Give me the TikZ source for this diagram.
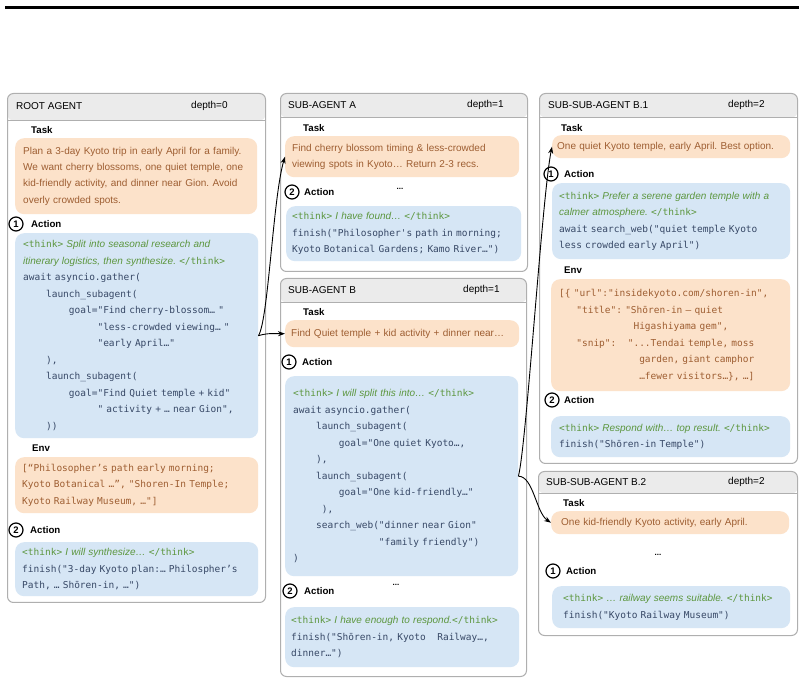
\documentclass[tikz,border=0pt]{standalone}
\usepackage{fontspec}
\setmainfont{Liberation Sans}
\setmonofont{DejaVu Sans Mono}
\usetikzlibrary{arrows.meta}
\frenchspacing

\definecolor{taskfill}{RGB}{252,226,202}
\definecolor{tasktext}{RGB}{158,94,50}
\definecolor{actfill}{RGB}{214,230,245}
\definecolor{codetext}{RGB}{55,72,102}
\definecolor{thinkgreen}{RGB}{92,150,62}
\definecolor{headfill}{RGB}{235,235,235}
\definecolor{panelgray}{RGB}{175,175,175}

\newcommand{\tko}{{\color{thinkgreen}<think>}}
\newcommand{\tkc}{{\color{thinkgreen}</think>}}
\newcommand{\thk}[1]{{\color{thinkgreen}\rmfamily\itshape\fontsize{10}{16.5}\selectfont #1}}
\newcommand{\cind}[1]{\hspace*{#1\fontcharwd\font`\0}}

\tikzset{panel/.style={rectangle, rounded corners=6pt, draw=panelgray, line width=1pt, fill=white, anchor=north west, inner sep=0pt,
    path picture={\fill[headfill] (path picture bounding box.north west) rectangle ([yshift=-#1]path picture bounding box.north east);
      \draw[panelgray, line width=0.8pt] ([yshift=-#1]path picture bounding box.north west) -- ([yshift=-#1]path picture bounding box.north east);}}}
\tikzstyle{headtext} = [anchor=west, inner sep=0pt, font=\fontsize{10}{12}\selectfont]
\tikzstyle{secname} = [anchor=west, inner sep=0pt, font=\bfseries\fontsize{9.7}{12}\selectfont]
\tikzstyle{taskbox} = [rectangle, rounded corners=9pt, fill=taskfill, anchor=north west, inner xsep=7pt, inner ysep=0pt, align=left, text=tasktext, font=\fontsize{10}{16.3}\selectfont]
\tikzstyle{actbox} = [rectangle, rounded corners=9pt, fill=actfill, anchor=north west, inner xsep=7pt, inner ysep=0pt, align=left, text=codetext, font=\ttfamily\fontsize{9.5}{16.5}\selectfont]
\tikzstyle{envbox} = [rectangle, rounded corners=9pt, fill=taskfill, anchor=north west, inner xsep=7pt, inner ysep=0pt, align=left, text=tasktext, font=\ttfamily\fontsize{9.5}{16.5}\selectfont]
\tikzstyle{stepnum} = [circle, draw, line width=1.2pt, inner sep=0pt, minimum size=14pt, font=\bfseries\fontsize{9.5}{10}\selectfont]
\tikzstyle{ellip} = [inner sep=0pt, font=\bfseries\fontsize{8}{10}\selectfont]
\tikzstyle{arrow} = [-{Stealth[length=7pt, width=5pt]}, line width=0.9pt]

\begin{document}
\begin{tikzpicture}[x=1pt, y=-1pt]
  \useasboundingbox (0,0) rectangle (804,684);

  \coordinate (ruleL) at (5,7.5);
  \coordinate (ruleR) at (799,7.5);
  \draw[line width=3.5pt] (ruleL) -- (ruleR);

  % root agent
  \node (root) [panel=27pt, minimum width=258pt, minimum height=509pt] at (7,93) {};
  \node (roottitle) [headtext] at (16,106) {ROOT AGENT};
  \node (rootdepth) [headtext] at (191,106) {depth=0};
  \node (rtasklbl) [secname] at (31,130) {Task};
  \node (rtask) [taskbox, inner xsep=8pt, text width=226pt, minimum height=76pt] at (15,138) {Plan a 3-day Kyoto trip in early April for a family.\\We want cherry blossoms, one quiet temple, one\\kid-friendly activity, and dinner near Gion. Avoid\\overly crowded spots.};
  \node (r1num) [stepnum] at (16,224) {1};
  \node (r1lbl) [secname] at (31,224) {Action};
  \node (ract1) [actbox, inner xsep=8pt, text width=227pt, minimum height=205pt] at (15,233) {\tko{} \thk{Split into seasonal research and}\\
    \thk{itinerary logistics, then synthesize.} \tkc\\
    await asyncio.gather(\\
    \cind{4}launch\_subagent(\\
    \cind{8}goal="Find cherry-blossom… "\\
    \cind{13}"less-crowded viewing… "\\
    \cind{13}"early April…"\\
    \cind{4}),\\
    \cind{4}launch\_subagent(\\
    \cind{8}goal="Find Quiet temple + kid"\\
    \cind{13}" activity + … near Gion",\\
    \cind{4}))};
  \node (renvlbl) [secname] at (32,448) {Env};
  \node (renv) [envbox, text width=229pt, minimum height=56pt] at (15,457) {[“Philosopher’s path early morning;\\
    Kyoto Botanical …”, "Shoren-In Temple;\\
    Kyoto Railway Museum, …"]};
  \node (r2num) [stepnum] at (16,530) {2};
  \node (r2lbl) [secname] at (30,530) {Action};
  \node (ract2) [actbox, text width=229pt, minimum height=54pt] at (15,542) {\tko{} \thk{I will synthesize…} \tkc\\
    finish("3-day Kyoto plan:… Philospher’s\\
    Path, … Shōren-in, …")};

  % sub-agent A
  \node (pa) [panel=24pt, minimum width=247pt, minimum height=178pt] at (280,93) {};
  \node (patitle) [headtext] at (288,105) {SUB-AGENT A};
  \node (padepth) [headtext] at (467,105) {depth=1};
  \node (atasklbl) [secname] at (303,128) {Task};
  \node (atask) [taskbox, text width=220pt, minimum height=41pt] at (285,136) {Find cherry blossom timing \& less-crowded\\viewing spots in Kyoto… Return 2-3 recs.};
  \node (adots) [ellip] at (400,189) {...};
  \node (a2num) [stepnum] at (292,192) {2};
  \node (a2lbl) [secname] at (304,192) {Action};
  \node (aact) [actbox, inner xsep=6pt, text width=223pt, minimum height=55pt] at (286,206) {\tko{} \thk{I have found…} \tkc\\
    finish("Philosopher's path in morning;\\
    Kyoto Botanical Gardens; Kamo River…")};

  % sub-agent B
  \node (pb) [panel=24pt, minimum width=246pt, minimum height=398pt] at (280,278) {};
  \node (pbtitle) [headtext] at (288,290) {SUB-AGENT B};
  \node (pbdepth) [headtext] at (463,290) {depth=1};
  \node (btasklbl) [secname] at (303,312) {Task};
  \node (btask) [taskbox, inner xsep=6pt, text width=222pt, minimum height=27pt] at (285,320) {Find Quiet temple + kid activity + dinner near…};
  \node (b1num) [stepnum] at (289,362) {1};
  \node (b1lbl) [secname] at (302,362) {Action};
  \node (bact1) [actbox, inner xsep=8pt, text width=217pt, minimum height=200pt] at (285,376) {\tko{} \thk{I will split this into…} \tkc\\
    await asyncio.gather(\\
    \cind{4}launch\_subagent(\\
    \cind{8}goal="One quiet Kyoto…,\\
    \cind{4}),\\
    \cind{4}launch\_subagent(\\
    \cind{8}goal="One kid-friendly…"\\
    \cind{5}),\\
    \cind{4}search\_web("dinner near Gion"\\
    \cind{15}"family friendly")\\
    )};
  \node (bdots) [ellip] at (396,585) {...};
  \node (b2num) [stepnum] at (290,591) {2};
  \node (b2lbl) [secname] at (304,591) {Action};
  \node (bact2) [actbox, inner xsep=6pt, text width=222pt, minimum height=60pt] at (285,607) {\tko{} \thk{I have enough to respond.}\tkc\\
    finish("Shōren-in, Kyoto\cind{2}Railway…,\\
    dinner…")};

  % sub-sub-agent B.1
  \node (pb1) [panel=24pt, minimum width=258pt, minimum height=370pt] at (539,93) {};
  \node (pb1title) [headtext] at (548,105) {SUB-SUB-AGENT B.1};
  \node (pb1depth) [headtext] at (728,105) {depth=2};
  \node (b1tasklbl) [secname] at (561,128) {Task};
  \node (b1task) [taskbox, inner xsep=5pt, text width=228pt, minimum height=23pt] at (552,135) {One quiet Kyoto temple, early April. Best option.};
  \node (b11num) [stepnum] at (551,174) {1};
  \node (b11lbl) [secname] at (564,174) {Action};
  \node (b1act1) [actbox, text width=224pt, minimum height=76pt] at (552,183) {\tko{} \thk{Prefer a serene garden temple with a}\\
    \thk{calmer atmosphere.} \tkc\\
    await search\_web("quiet temple Kyoto\\
    less crowded early April")};
  \node (b1envlbl) [secname] at (564,270) {Env};
  \node (b1env) [envbox, inner xsep=8pt, text width=223pt, minimum height=112pt] at (551,279) {[\{ "url":"insidekyoto.com/shoren-in",\\
    \cind{3}"title": "Shōren-in — quiet\\
    \cind{13}Higashiyama gem",\\
    \cind{3}"snip":\cind{2}"...Tendai temple, moss\\
    \cind{14}garden, giant camphor\\
    \cind{14}…fewer visitors…\}, …]};
  \node (b12num) [stepnum] at (552,400) {2};
  \node (b12lbl) [secname] at (564,400) {Action};
  \node (b1act2) [actbox, inner xsep=8pt, text width=223pt, minimum height=41pt] at (551,416) {\tko{} \thk{Respond with… top result.} \tkc\\
    finish("Shōren-in Temple")};

  % sub-sub-agent B.2
  \node (pb2) [panel=22pt, minimum width=259pt, minimum height=164pt] at (538,471) {};
  \node (pb2title) [headtext] at (546,482) {SUB-SUB-AGENT B.2};
  \node (pb2depth) [headtext] at (728,482) {depth=2};
  \node (b2tasklbl) [secname] at (563,503) {Task};
  \node (b2task) [taskbox, inner xsep=10pt, text width=218pt, minimum height=23pt] at (551,511) {One kid-friendly Kyoto activity, early April.};
  \node (b2dots) [ellip] at (658,555) {...};
  \node (b21num) [stepnum] at (553,571) {1};
  \node (b21lbl) [secname] at (566,571) {Action};
  \node (b2act) [actbox, inner xsep=11pt, text width=216pt, minimum height=42pt] at (552,586) {\tko{} \thk{… railway seems suitable.} \tkc\\
    finish("Kyoto Railway Museum")};

  % spawn arrows
  \draw [arrow] (ract1.east) .. controls +(10,-15) and +(-12,40) .. (atask.west);
  \draw [arrow] (ract1.east) .. controls +(10,-3) and +(-10,0) .. (btask.west);
  \draw [arrow] (bact1.east) .. controls +(8,-30) and +(-10,50) .. (b1task.west);
  \draw [arrow] (bact1.east) .. controls +(15,0) and +(-15,-10) .. (b2task.west);
\end{tikzpicture}
\end{document}
